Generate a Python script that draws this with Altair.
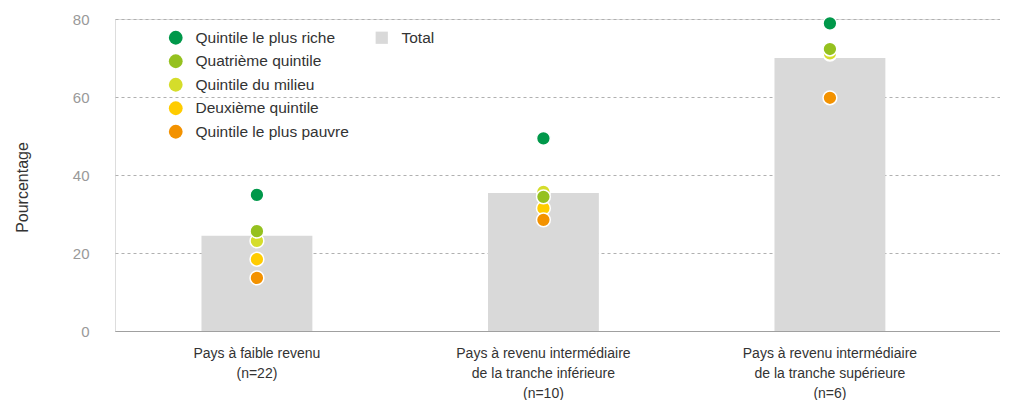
import altair as alt
import pandas as pd

categories = [
    "Pays à faible revenu|(n=22)",
    "Pays à revenu intermédiaire|de la tranche inférieure|(n=10)",
    "Pays à revenu intermédiaire|de la tranche supérieure|(n=6)",
]
total = [24.4, 35.4, 70.0]
series_names = [
    "Quintile le plus riche",
    "Quatrième quintile",
    "Quintile du milieu",
    "Deuxième quintile",
    "Quintile le plus pauvre",
]
richest = [34.9, 49.4, 78.9]
fourth = [25.6, 34.4, 72.3]
middle = [23.1, 35.7, 71.2]
second = [18.4, 31.5, 71.0]
poorest = [13.6, 28.5, 59.8]
colors = ["#00984a", "#95c11f", "#d5dd2b", "#ffcc00", "#f39200"]
draw_rank = [5, 3, 2, 1, 4]

bars = pd.DataFrame({"cat": categories, "value": total, "lab": ["Total"] * 3})
rows = []
for name, vals, rk in zip(series_names, [richest, fourth, middle, second, poorest], draw_rank):
    for c, v in zip(categories, vals):
        rows.append({"cat": c, "value": v, "series": name, "rank": rk})
pts = pd.DataFrame(rows).sort_values("rank")

FONT = "Liberation Sans"

xscale = alt.Scale(domain=categories, paddingInner=0.613, paddingOuter=0.351, align=0.43)
yscale = alt.Scale(domain=[0, 80], nice=False)

xaxis = alt.Axis(
    title=None,
    labelAngle=0,
    labelExpr="split(datum.label, '|')",
    labelFontSize=14,
    labelColor="#333333",
    labelFont=FONT,
    labelPadding=15,
    labelLineHeight=20,
    ticks=False,
    domain=True,
    domainColor="#a0a0a0",
    domainWidth=1.2,
    grid=False,
)

yaxis = alt.Axis(
    title="Pourcentage",
    values=[0, 20, 40, 60, 80],
    grid=True,
    gridDash=[3, 3],
    gridColor="#b0b0b0",
    ticks=False,
    domain=False,
    labelFontSize=15,
    labelColor="#999999",
    labelFont=FONT,
    labelPadding=26,
    titleFont=FONT,
    titleFontSize=16,
    titleFontWeight="normal",
    titleColor="#333333",
    titleAngle=-90,
    titleX=-93,
    titleY=168,
    titleAlign="center",
    titleBaseline="middle",
)

bar = alt.Chart(bars).mark_bar(color="#d9d9d9").encode(
    x=alt.X("cat:N", scale=xscale, sort=categories, axis=xaxis),
    y=alt.Y("value:Q", scale=yscale, axis=yaxis),
    color=alt.Color(
        "lab:N",
        scale=alt.Scale(domain=["Total"], range=["#d9d9d9"]),
        legend=alt.Legend(
            title=None,
            orient="none",
            legendX=259,
            legendY=11,
            symbolType="square",
            symbolSize=150,
            labelFontSize=15.5,
            labelFont=FONT,
            labelColor="#333333",
            symbolStrokeWidth=0,
            labelOffset=12,
        ),
    ),
)

points = alt.Chart(pts).mark_circle(size=190, opacity=1, stroke="white", strokeWidth=1.5).encode(
    x=alt.X("cat:N", scale=xscale, sort=categories, axis=xaxis),
    y=alt.Y("value:Q", scale=yscale, axis=yaxis),
    color=alt.Color(
        "series:N",
        scale=alt.Scale(domain=series_names, range=colors),
        legend=alt.Legend(
            title=None,
            orient="none",
            legendX=53,
            legendY=11,
            symbolType="circle",
            symbolSize=190,
            symbolStrokeWidth=0,
            labelFontSize=15.5,
            labelFont=FONT,
            labelColor="#333333",
            rowPadding=6.5,
            labelOffset=12,
        ),
    ),
    order=alt.Order("rank:Q"),
)

chart = (
    alt.layer(bar, points)
    .resolve_scale(color="independent")
    .properties(width=885, height=312, padding={"left": 107, "top": 11, "right": 0, "bottom": 70})
    .configure_view(strokeWidth=0, stroke="transparent")
    .configure(autosize=alt.AutoSizeParams(type="none"))
)

chart.save("out.html", embed_options={"renderer": "svg", "actions": False})
